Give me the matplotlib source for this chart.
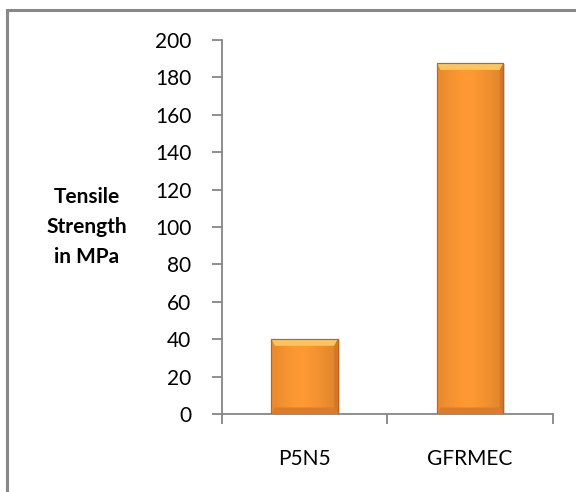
import numpy as np
import matplotlib.pyplot as plt
from matplotlib.patches import Polygon, Rectangle

# ----- Data ----- #
samples = ["P5N5", "GFRMEC"]
tensile_strength = [40, 187.5]  # MPa

plt.rcParams['font.family'] = ['Lato', 'DejaVu Sans']

fig = plt.figure(figsize=(5.76, 4.92), dpi=100)
ax = fig.add_axes([0.385, 0.1585, 0.575, 0.760])

x = np.arange(len(samples))
bars = ax.bar(x, tensile_strength, width=0.4, color="#f7962f",
              edgecolor="#c8661c", linewidth=0.8, zorder=3)

ax.set_xlim(-0.5, len(samples) - 0.5)
ax.set_ylim(0, 200)
ax.set_yticks(np.arange(0, 201, 20))

# ----- Bevel shading on each bar ----- #
bx = 0.02   # bevel width in x (data units)
by = 3.5    # bevel height in y (data units)
for b in bars:
    x0, w, h = b.get_x(), b.get_width(), b.get_height()
    x1 = x0 + w
    # soft horizontal gradient across the bar
    grad = np.linspace(0, 1, 64)
    shade = 1 - 0.35 * np.abs(grad - 0.45) ** 1.5
    img = np.zeros((1, 64, 4))
    img[0, :, 0] = 0.98 * shade + 0.02
    img[0, :, 1] = 0.60 * shade
    img[0, :, 2] = 0.20 * shade
    img[0, :, 3] = 1
    im = ax.imshow(img, extent=[x0, x1, 0, h], aspect='auto', zorder=3.1,
                   interpolation='bicubic')
    im.set_clip_path(b)
    # top bevel (light)
    ax.add_patch(Polygon([[x0, h], [x1, h], [x1 - bx, h - by], [x0 + bx, h - by]],
                         closed=True, facecolor="#ffc45a", edgecolor="none", zorder=3.2))
    # bottom bevel (darker)
    ax.add_patch(Polygon([[x0, 0], [x1, 0], [x1 - bx, by], [x0 + bx, by]],
                         closed=True, facecolor="#db7c2c", edgecolor="none", zorder=3.2))
    # side bevels
    ax.add_patch(Polygon([[x0, 0], [x0 + bx, by], [x0 + bx, h - by], [x0, h]],
                         closed=True, facecolor="#ec8a2e", edgecolor="none", zorder=3.2))
    ax.add_patch(Polygon([[x1, 0], [x1 - bx, by], [x1 - bx, h - by], [x1, h]],
                         closed=True, facecolor="#d47628", edgecolor="none", zorder=3.2))
    ax.add_patch(Rectangle((x0, 0), w, h, facecolor="none", edgecolor="#c06218",
                           linewidth=0.8, zorder=3.3))
    # light drop shadow on the right
    ax.add_patch(Rectangle((x1, 0.5), 0.012, h - 1, facecolor="#bbbbbb",
                           edgecolor="none", alpha=0.5, zorder=2.9))

# ----- Axes styling ----- #
axis_gray = "#868686"
for side in ["top", "right"]:
    ax.spines[side].set_visible(False)
for side in ["left", "bottom"]:
    ax.spines[side].set_color(axis_gray)
    ax.spines[side].set_linewidth(1.3)

ax.tick_params(axis='y', length=7, width=1.3, color=axis_gray, pad=15,
               labelsize=15, labelcolor="black")
ax.set_xticks(x)
ax.set_xticklabels(samples)
ax.tick_params(axis='x', which='major', length=0, pad=25,
               labelsize=15, labelcolor="black")
ax.set_xticks(np.arange(-0.5, len(samples), 1), minor=True)
ax.tick_params(axis='x', which='minor', length=7, width=1.3, color=axis_gray)

fig.text(0.150, 0.539, "Tensile\nStrength\nin MPa", ha='center', va='center',
         fontsize=15, fontweight='bold', linespacing=1.62)

# ----- Chart frame ----- #
fig.add_artist(Rectangle((0.012, -0.1), 1.2, 1.08, transform=fig.transFigure,
                         facecolor="none", edgecolor="#888888", linewidth=2.2))

fig.savefig("out.png", dpi=100)
